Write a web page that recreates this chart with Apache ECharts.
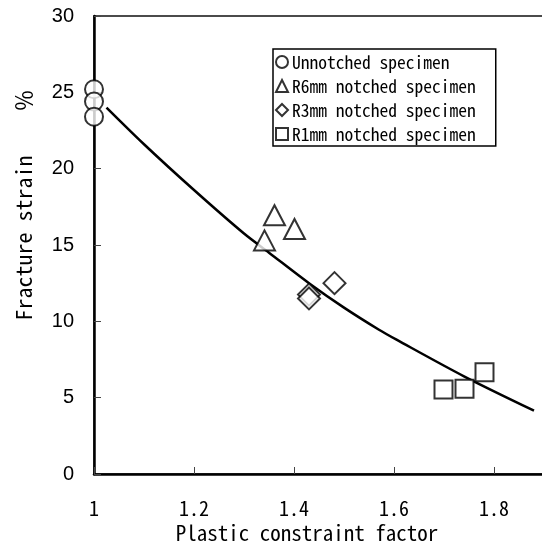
<!DOCTYPE html>
<html>
<head>
<meta charset="utf-8">
<script src="https://cdn.jsdelivr.net/npm/echarts@6/dist/echarts.min.js"></script>
<style>
  html, body { margin: 0; padding: 0; background: #fff; }
  #chart { width: 542px; height: 558px; }
</style>
</head>
<body>
<div id="chart"></div>
<script>
// Measured specimens: plastic constraint factor vs fracture strain (%)
const unnotchedX = [1.0, 1.0, 1.0];
const unnotchedY = [25.2, 24.4, 23.4];
const r6X = [1.341, 1.361, 1.401];
const r6Y = [15.3, 16.95, 16.05];
const r3X = [1.43, 1.43, 1.481];
const r3Y = [11.75, 11.5, 12.5];
const r1X = [1.699, 1.741, 1.781];
const r1Y = [5.53, 5.59, 6.67];

// Trend curve points
const fitX = [1.025, 1.1, 1.2, 1.3, 1.35, 1.43, 1.5, 1.57, 1.605, 1.74, 1.88];
const fitY = [24.0, 21.6, 18.6, 15.75, 14.5, 12.5, 10.9, 9.45, 8.8, 6.4, 4.15];

const seriesNames = [
  'Unnotched specimen',
  'R6mm notched specimen',
  'R3mm notched specimen',
  'R1mm notched specimen'
];
const xTicks = [1, 1.2, 1.4, 1.6, 1.8];
const yTicks = [0, 5, 10, 15, 20, 25, 30];

const MONO = '"Noto Sans Mono CJK JP", "DejaVu Sans Mono", monospace';

function pairs(xs, ys) {
  return xs.map((x, i) => [x, ys[i]]);
}

const hollow = { color: '#ffffff', borderColor: '#000000', borderWidth: 2 };

const chart = echarts.init(document.getElementById('chart'), null, { renderer: 'canvas' });

chart.setOption({
  animation: false,
  backgroundColor: '#ffffff',
  grid: {
    left: 94, top: 16, width: 460, height: 458,
    outerBoundsMode: 'none', containLabel: false,
    show: true, borderColor: '#111', borderWidth: 1.5, backgroundColor: 'transparent'
  },
  legend: {
    orient: 'vertical',
    left: 273, top: 49,
    data: seriesNames,
    itemWidth: 12, itemHeight: 12, itemGap: 4,
    padding: [3, 20, 2, 2],
    borderColor: '#000', borderWidth: 1.5,
    backgroundColor: '#fff',
    itemStyle: { color: '#fff', borderColor: '#000', borderWidth: 2 },
    textStyle: { fontFamily: MONO, fontSize: 17.5, color: '#000', lineHeight: 20, padding: [0, 0, 0, -1] }
  },
  xAxis: {
    type: 'value',
    min: xTicks[0], max: 1.92, interval: 0.2,
    name: 'Plastic constraint factor',
    nameLocation: 'middle', nameGap: 49,
    nameTextStyle: { fontFamily: MONO, fontSize: 21, color: '#000', padding: [0, 34, 0, 0] },
    axisLine: { show: true, onZero: false, lineStyle: { color: '#000', width: 2.5 } },
    axisTick: { show: true, inside: true, length: 7, lineStyle: { color: '#444', width: 1 } },
    splitLine: { show: false },
    axisLabel: {
      margin: 24, showMaxLabel: false,
      fontFamily: MONO, fontSize: 20, color: '#000',
      formatter: v => (xTicks.some(t => Math.abs(t - v) < 1e-6) ? String(+v.toFixed(1)) : '')
    }
  },
  yAxis: {
    type: 'value',
    min: yTicks[0], max: yTicks[yTicks.length - 1], interval: 5,
    name: 'Fracture strain\u3000\u3000\uFF05',
    nameLocation: 'middle', nameGap: 59,
    nameTextStyle: { fontFamily: MONO, fontSize: 22, color: '#000', padding: [0, 0, 0, 80] },
    axisLine: { show: true, onZero: false, lineStyle: { color: '#000', width: 2.5 } },
    axisTick: { show: true, inside: true, length: 7, lineStyle: { color: '#444', width: 1 } },
    splitLine: { show: false },
    axisLabel: { margin: 20, fontFamily: '"Liberation Sans", Arial, sans-serif', fontSize: 20, color: '#000' }
  },
  series: [
    {
      name: 'trend', type: 'line', data: pairs(fitX, fitY),
      smooth: 0.3, showSymbol: false, symbol: 'none',
      lineStyle: { color: '#000', width: 2.5 }, z: 1, silent: true
    },
    {
      name: seriesNames[0], type: 'scatter', data: pairs(unnotchedX, unnotchedY),
      symbol: 'circle', symbolSize: 18, itemStyle: hollow, z: 3
    },
    {
      name: seriesNames[1], type: 'scatter', data: pairs(r6X, r6Y),
      symbol: 'triangle', symbolSize: [21, 20], itemStyle: hollow, z: 3
    },
    {
      name: seriesNames[2], type: 'scatter', data: pairs(r3X, r3Y),
      symbol: 'diamond', symbolSize: [22, 22], itemStyle: hollow, z: 3
    },
    {
      name: seriesNames[3], type: 'scatter', data: pairs(r1X, r1Y),
      symbol: 'rect', symbolSize: 18, itemStyle: hollow, z: 3
    }
  ]
});
</script>
</body>
</html>
